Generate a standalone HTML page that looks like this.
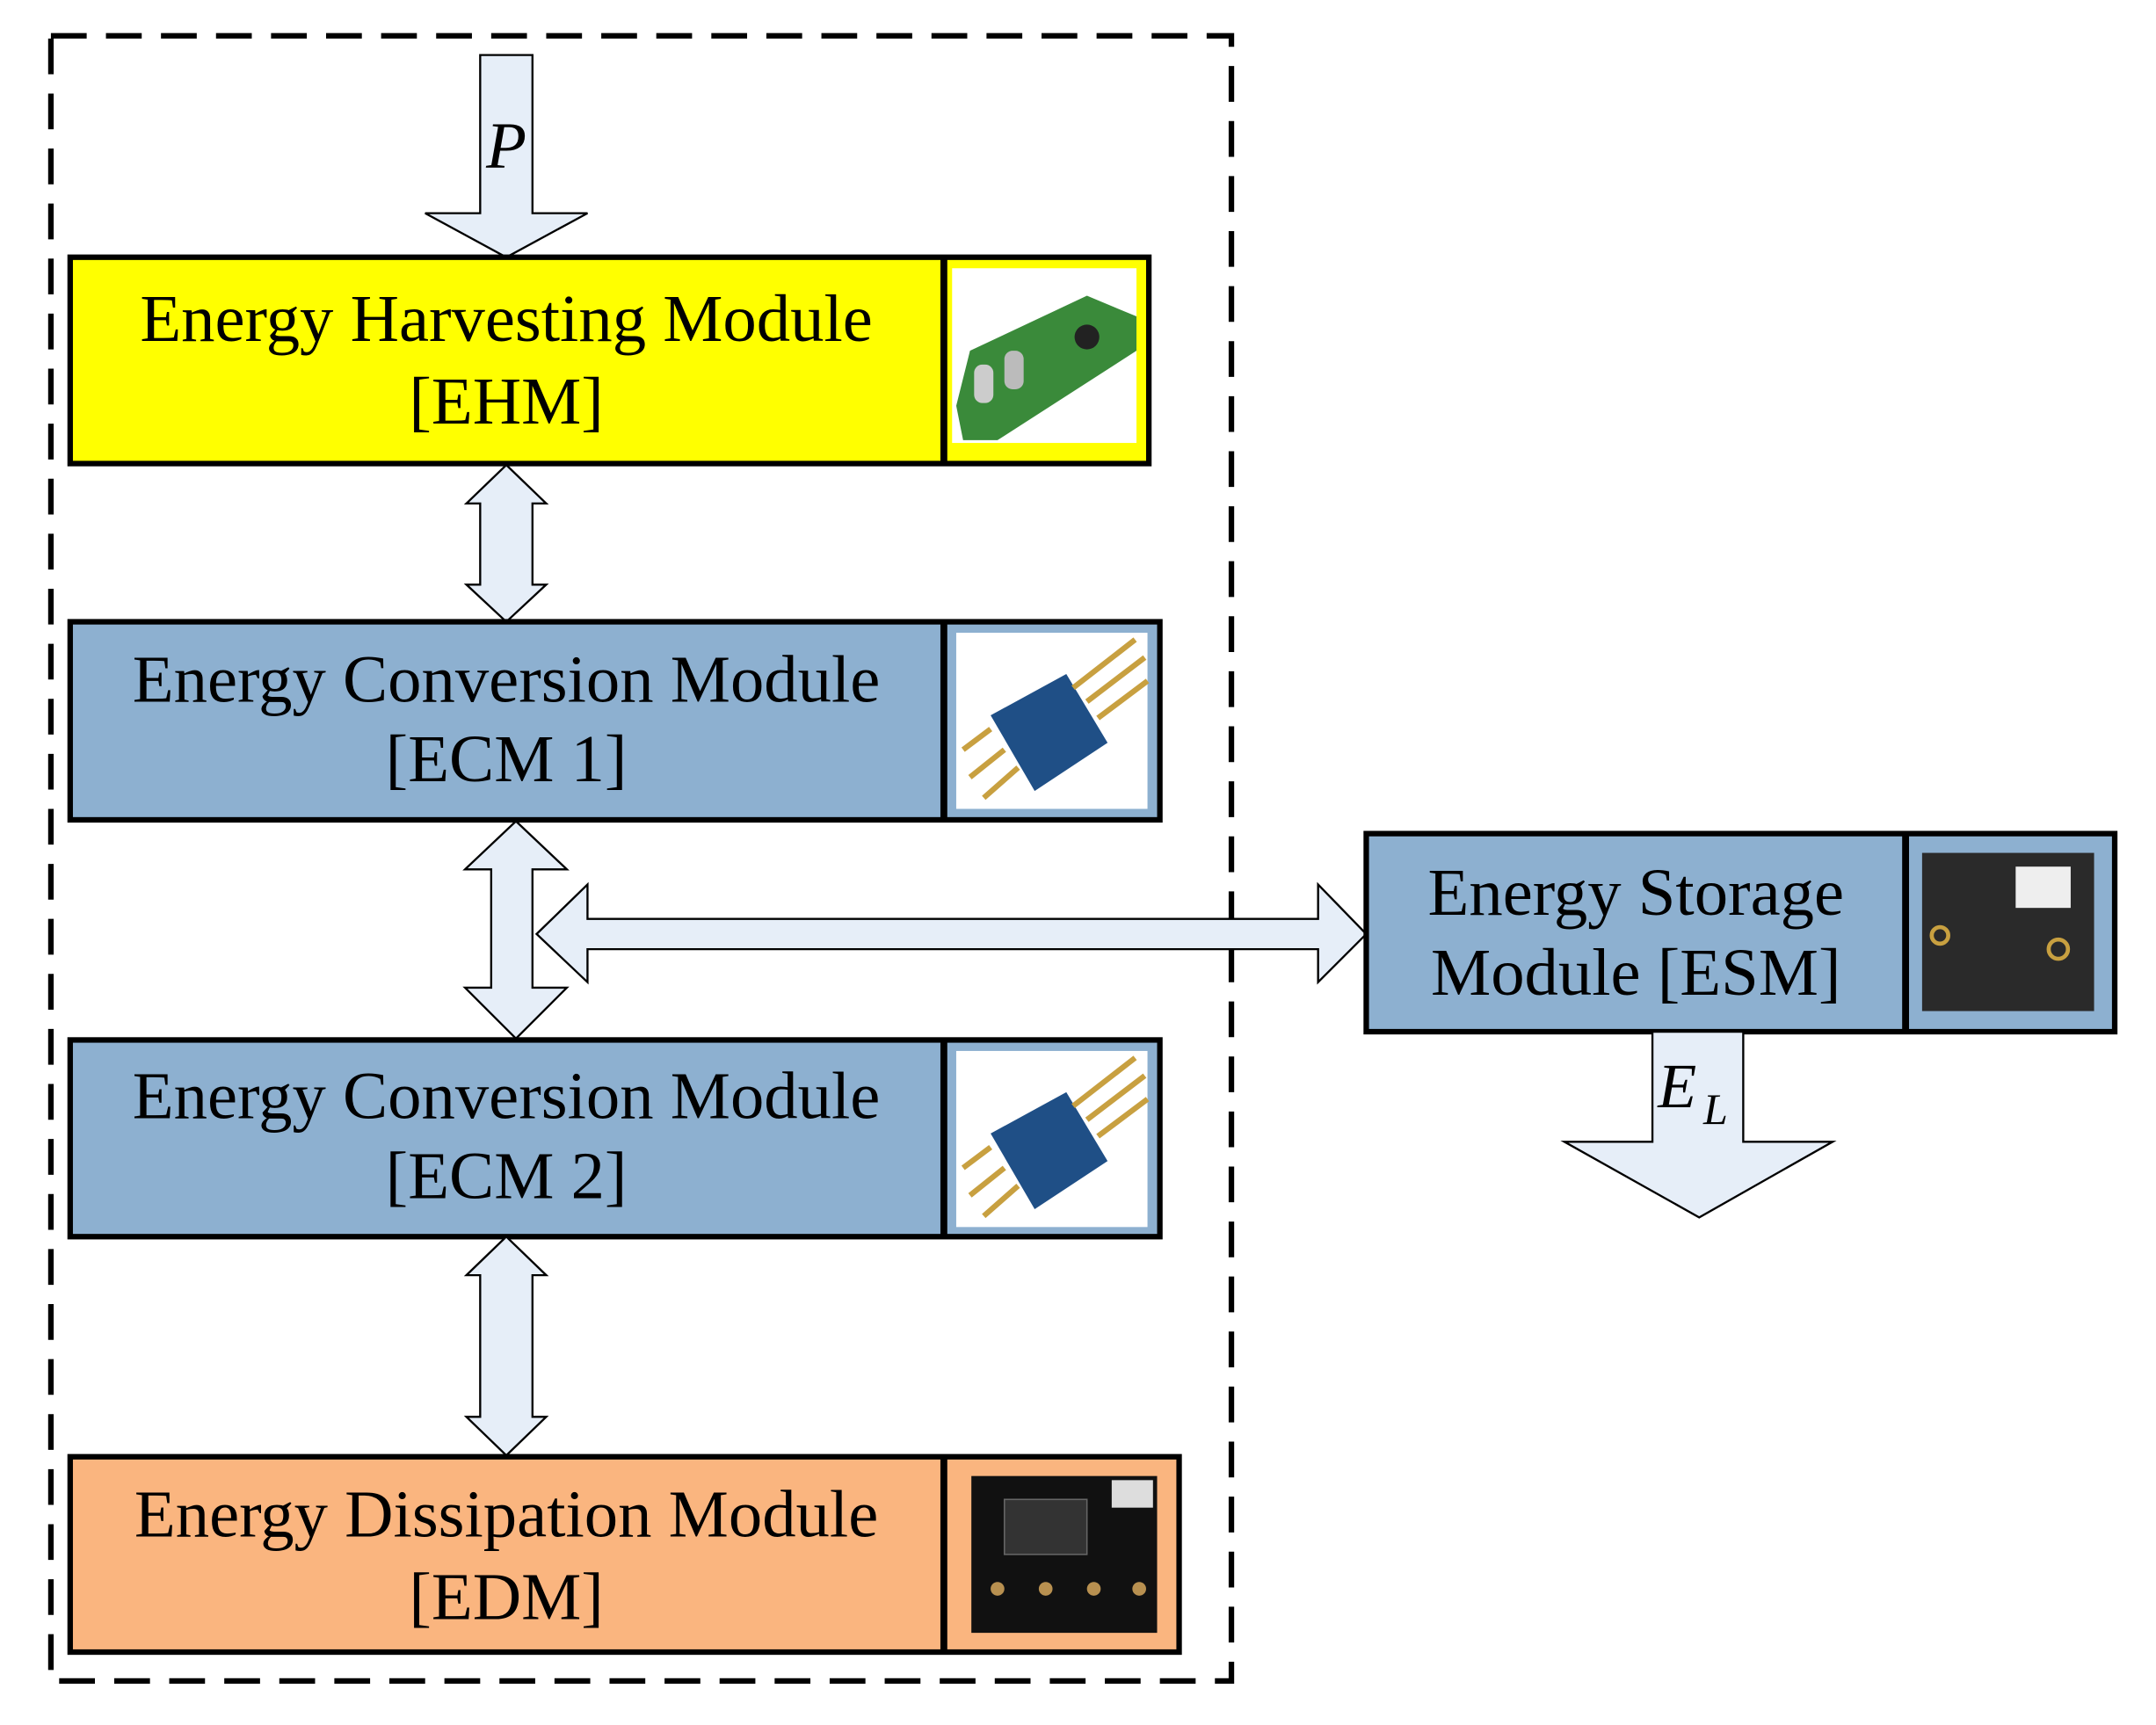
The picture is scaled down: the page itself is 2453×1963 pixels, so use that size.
<!DOCTYPE html>
<html><head><meta charset="utf-8"><style>
html,body{margin:0;padding:0;background:#fff;}
svg{display:block;}
text{font-family:"Liberation Serif",serif;}
</style></head><body>
<svg width="2453" height="1963" viewBox="0 0 1567 1254" preserveAspectRatio="none" xmlns="http://www.w3.org/2000/svg">
<rect x="0" y="0" width="1567" height="1254" fill="#fff"/>
<rect x="37" y="26" width="858" height="1196" fill="none" stroke="#000" stroke-width="4" stroke-dasharray="26,14"/>
<polygon points="349,40 387,40 387,155 427,155 368,187 309,155 349,155" fill="#e6eef8" stroke="#000" stroke-width="1.5"/>
<text x="368" y="122" font-size="48" font-style="italic" text-anchor="middle">P</text>
<rect x="51" y="187" width="784" height="150" fill="#ffff00" stroke="#000" stroke-width="4"/>
<line x1="686" y1="187" x2="686" y2="337" stroke="#000" stroke-width="5"/>
<rect x="692" y="195" width="134" height="127" fill="#fff"/>
<polygon points="695,295 705,255 790,215 826,230 826,255 725,320 700,320" fill="#3a8a3a"/>
<rect x="708" y="265" width="14" height="28" fill="#ccc" rx="6"/>
<rect x="730" y="255" width="14" height="28" fill="#bbb" rx="6"/>
<circle cx="790" cy="245" r="9" fill="#222"/>
<text x="368" y="248" font-size="49" text-anchor="middle">Energy Harvesting Module</text>
<text x="368" y="308" font-size="49" text-anchor="middle">[EHM]</text>
<polygon points="368,338 397,366 387,366 387,425 397,425 368,452 339,425 349,425 349,366 339,366" fill="#e6eef8" stroke="#000" stroke-width="1.5"/>
<rect x="51" y="452" width="792" height="144" fill="#8db0d0" stroke="#000" stroke-width="4"/>
<line x1="686" y1="452" x2="686" y2="596" stroke="#000" stroke-width="5"/>
<rect x="695" y="460" width="139" height="128" fill="#fff"/>
<polygon points="720,520 775,490 805,540 752,575" fill="#1f4f86"/>
<g stroke="#c8a040" stroke-width="4"><line x1="780" y1="500" x2="825" y2="465"/><line x1="790" y1="510" x2="832" y2="478"/><line x1="798" y1="522" x2="834" y2="495"/><line x1="720" y1="530" x2="700" y2="545"/><line x1="730" y1="545" x2="705" y2="565"/><line x1="740" y1="558" x2="715" y2="580"/></g>
<text x="368" y="510" font-size="49" text-anchor="middle">Energy Conversion Module</text>
<text x="368" y="568" font-size="49" text-anchor="middle">[ECM 1]</text>
<polygon points="375,597 412,632 387,632 387,718 412,718 375,755 338,718 357,718 357,632 338,632" fill="#e6eef8" stroke="#000" stroke-width="1.5"/>
<polygon points="390,679 427,643 427,668 958,668 958,643 993,679 958,714 958,690 427,690 427,714" fill="#e6eef8" stroke="#000" stroke-width="1.5"/>
<rect x="993" y="606" width="544" height="144" fill="#8db0d0" stroke="#000" stroke-width="4"/>
<line x1="1385" y1="606" x2="1385" y2="750" stroke="#000" stroke-width="5"/>
<rect x="1397" y="620" width="125" height="115" fill="#2a2a2a"/>
<rect x="1465" y="630" width="40" height="30" fill="#eee"/>
<circle cx="1496" cy="690" r="7" fill="none" stroke="#c8a040" stroke-width="3"/>
<circle cx="1410" cy="680" r="6" fill="none" stroke="#c8a040" stroke-width="3"/>
<text x="1189" y="665" font-size="49" text-anchor="middle">Energy Storage</text>
<text x="1189" y="723" font-size="49" text-anchor="middle">Module [ESM]</text>
<polygon points="1201,750 1267,750 1267,830 1332,830 1235,885 1137,830 1201,830" fill="#e6eef8" stroke="#000" stroke-width="1.5"/>
<text x="1205" y="805" font-size="46" font-style="italic">E</text>
<text x="1238" y="817" font-size="32" font-style="italic">L</text>
<rect x="51" y="756" width="792" height="143" fill="#8db0d0" stroke="#000" stroke-width="4"/>
<line x1="686" y1="756" x2="686" y2="899" stroke="#000" stroke-width="5"/>
<rect x="695" y="764" width="139" height="128" fill="#fff"/>
<polygon points="720,824 775,794 805,844 752,879" fill="#1f4f86"/>
<g stroke="#c8a040" stroke-width="4"><line x1="780" y1="804" x2="825" y2="769"/><line x1="790" y1="814" x2="832" y2="782"/><line x1="798" y1="826" x2="834" y2="799"/><line x1="720" y1="834" x2="700" y2="849"/><line x1="730" y1="849" x2="705" y2="869"/><line x1="740" y1="862" x2="715" y2="884"/></g>
<text x="368" y="813" font-size="49" text-anchor="middle">Energy Conversion Module</text>
<text x="368" y="871" font-size="49" text-anchor="middle">[ECM 2]</text>
<polygon points="368,899 397,927 387,927 387,1030 397,1030 368,1058 339,1030 349,1030 349,927 339,927" fill="#e6eef8" stroke="#000" stroke-width="1.5"/>
<rect x="51" y="1059" width="806" height="142" fill="#fab57f" stroke="#000" stroke-width="4"/>
<line x1="686" y1="1059" x2="686" y2="1201" stroke="#000" stroke-width="5"/>
<rect x="706" y="1073" width="135" height="114" fill="#111"/>
<rect x="730" y="1090" width="60" height="40" fill="#333" stroke="#666"/>
<rect x="808" y="1076" width="30" height="20" fill="#ddd"/>
<g fill="#b89050"><circle cx="725" cy="1155" r="5"/><circle cx="760" cy="1155" r="5"/><circle cx="795" cy="1155" r="5"/><circle cx="828" cy="1155" r="5"/></g>
<text x="368" y="1117" font-size="49" text-anchor="middle">Energy Dissipation Module</text>
<text x="368" y="1177" font-size="49" text-anchor="middle">[EDM]</text>
</svg>
</body></html>
